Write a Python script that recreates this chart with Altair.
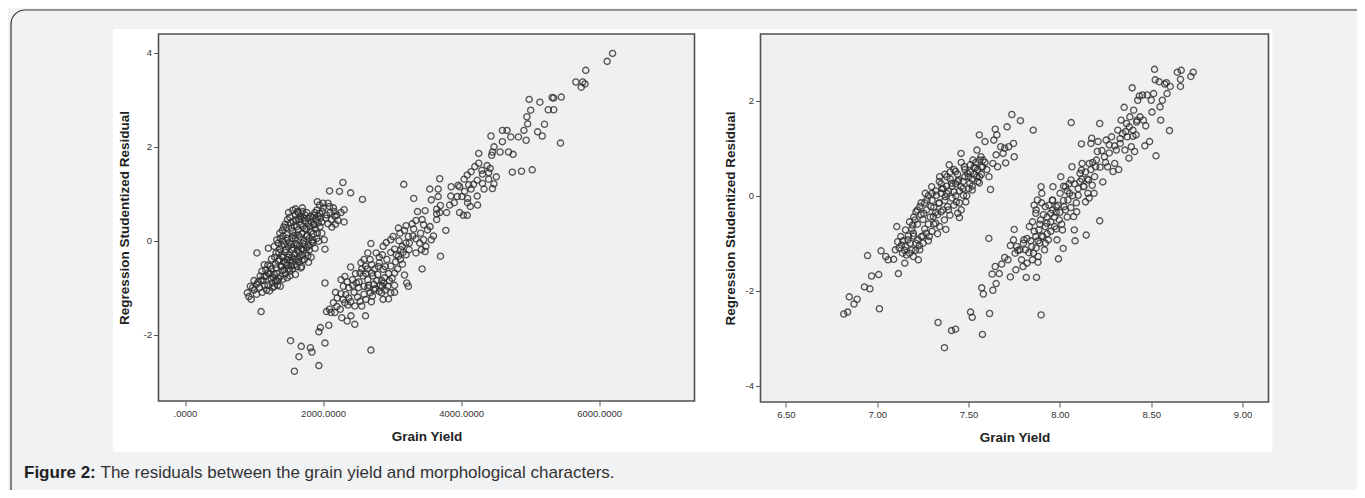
import altair as alt
import pandas as pd

# ---------------- data ----------------
# Left panel: (Grain Yield, Regression Studentized Residual)
left_points = [
    (6194, 3.99), (6116, 3.82), (5806, 3.63), (5662, 3.38), (5762, 3.38), (5795, 3.34),
    (5740, 3.27), (5451, 3.06), (5319, 3.05), (5341, 3.04), (5141, 2.95), (4986, 3.01),
    (5008, 2.78), (5263, 2.79), (5341, 2.79), (4953, 2.64), (4964, 2.49), (5208, 2.48),
    (5108, 2.32), (5175, 2.23), (4909, 2.35), (4942, 2.14), (4831, 2.21), (4720, 2.21),
    (4598, 2.35), (4665, 2.35), (4432, 2.23), (4598, 2.11), (4476, 2.00), (4454, 1.89),
    (4565, 1.89), (4687, 1.89), (4753, 1.84), (4443, 1.82), (5440, 2.08), (4255, 1.86),
    (4742, 1.46), (4875, 1.48), (5030, 1.51), (4255, 1.65), (4377, 1.60), (4421, 1.54),
    (4199, 1.58), (4144, 1.47), (4310, 1.42), (4510, 1.36), (4399, 1.31), (4310, 1.22),
    (4476, 1.21), (4454, 1.11), (4332, 1.10), (4089, 1.40), (4044, 1.31), (3978, 1.15),
    (4110, 1.19), (4233, 1.29), (4144, 1.10), (4011, 0.94), (4094, 0.90), (4233, 0.95),
    (4238, 0.76), (4094, 0.81), (4133, 0.73), (3978, 0.60), (4033, 0.54), (4089, 0.54),
    (3900, 0.81), (3834, 0.76), (3944, 0.94), (3956, 1.18), (3856, 1.15), (3690, 1.32),
    (3668, 1.10), (3546, 1.10), (3568, 0.87), (3668, 0.94), (3790, 0.60), (3690, 0.60),
    (3646, 0.67), (3368, 0.62), (3479, 0.64), (3646, 0.57), (3646, 0.45), (3779, 0.22),
    (3701, -0.33), (3169, 1.20), (3313, 0.90),
    (3700, 0.75), (3850, 0.95), (4180, 1.20), (4300, 1.50), (4400, 1.45), (4050, 1.05),
    (3346, 0.43), (3435, 0.45), (3291, 0.36), (3457, 0.34), (3513, 0.23), (3413, 0.16),
    (3313, 0.25), (3202, 0.32), (3180, 0.22), (3092, 0.27), (3114, 0.16), (3014, 0.09),
    (3236, 0.09), (3346, 0.04), (3457, 0.02), (3568, 0.02), (3490, -0.12), (3424, -0.19),
    (3479, -0.23), (3346, -0.26), (3247, -0.19), (3147, -0.12), (3202, -0.30), (3092, -0.33),
    (3125, -0.19), (3036, -0.18), (2981, 0.02), (2914, -0.04), (2870, -0.12), (2770, -0.26),
    (2693, -0.06), (2814, -0.35), (2925, -0.40), (2981, -0.54), (3036, -0.69), (3180, -0.73),
    (3435, -0.60), (3213, -0.90), (3236, -0.97), (3036, -0.95), (3036, -1.10), (2981, -1.11),
    (3100, 0.00), (3300, 0.10), (3400, -0.05), (3550, 0.30), (3600, 0.10), (3250, -0.05),
    (2648, -0.26), (2593, -0.40), (2704, -0.51), (2814, -0.47), (2870, -0.61), (2792, -0.72),
    (2892, -0.79), (2704, -0.69), (2615, -0.54), (2549, -0.47), (2537, -0.69), (2648, -0.83),
    (2737, -0.93), (2859, -0.97), (2937, -0.97), (2814, -1.08), (2682, -1.11), (2593, -0.97),
    (2482, -0.90), (2515, -1.00), (2427, -0.83), (2399, -0.56), (2316, -0.76), (2260, -0.83),
    (2294, -0.97), (2371, -1.00), (2593, -1.14), (2715, -1.18), (2870, -1.25), (2948, -1.24),
    (2848, -1.11), (2537, -1.29), (2560, -1.39), (2460, -1.39), (2371, -1.22), (2260, -1.13),
    (2205, -1.22), (2150, -1.32), (2316, -1.32), (2249, -1.46), (2094, -1.46), (2050, -1.51),
    (2116, -1.53), (2172, -1.53), (2271, -1.64), (2349, -1.71), (2460, -1.78), (2615, -1.60),
    (2404, -1.60), (2360, -1.37), (2083, -1.80), (1961, -1.85), (1939, -1.94),
    (2750, -0.60), (2850, -0.85), (2950, -0.70), (3050, -0.45), (3150, -0.50), (2650, -1.00),
    (2580, -0.75), (2450, -1.10), (2500, -1.20), (2900, -1.05), (2760, -1.02),
    (2400, -1.30), (2430, -0.95), (2470, -0.70), (2520, -0.88), (2560, -0.60), (2620, -0.70),
    (2660, -0.95), (2680, -0.40), (2720, -0.75), (2740, -1.05), (2780, -0.85), (2800, -0.55),
    (2830, -0.95), (2860, -0.30), (2880, -0.90), (2900, -0.55), (2960, -0.85), (2980, -0.25),
    (3000, -0.80), (3060, -0.30), (3080, -0.60), (3120, -0.40), (3160, -0.25), (3200, -0.05),
    (2330, -1.15), (2290, -1.25), (2200, -1.40), (2180, -1.10), (2350, -0.88), (2620, -1.25),
    (2700, -1.30), (2640, -0.60),
    (2028, -0.90), (2028, -0.18), (2693, -2.33), (1529, -2.13), (1651, -2.47), (1585, -2.78),
    (1684, -2.25), (1817, -2.28), (1839, -2.37), (1939, -2.66), (2028, -2.18),
    (2288, 1.24), (2094, 1.06), (2238, 1.05), (2399, 1.02), (2571, 0.88), (1917, 0.83),
    (2072, 0.80), (2094, 0.73), (1950, 0.76), (2161, 0.62), (2305, 0.66), (2172, 0.52),
    (2216, 0.43), (2305, 0.40), (2072, 0.36), (2127, 0.29), (1983, 0.16), (2017, 0.02),
    (2050, 0.55), (2120, 0.45), (2200, 0.55), (2260, 0.60), (2180, 0.35), (1980, 0.40),
    (1629, 0.62), (1762, 0.60), (1873, 0.55), (1928, 0.52), (1485, 0.45), (1568, 0.41),
    (1679, 0.46), (1789, 0.37), (1873, 0.34), (1956, 0.30), (1429, 0.29), (1540, 0.27),
    (1640, 0.23), (1734, 0.26), (1828, 0.20), (1917, 0.16), (1374, 0.16), (1474, 0.13),
    (1574, 0.11), (1662, 0.08), (1762, 0.09), (1850, 0.02), (1939, -0.01), (1330, 0.02),
    (1418, -0.01), (1507, -0.04), (1607, -0.06), (1706, -0.05), (1795, -0.11), (1884, -0.16),
    (1291, -0.12), (1374, -0.18), (1463, -0.19), (1551, -0.20), (1651, -0.25), (1750, -0.26),
    (1828, -0.35), (1208, -0.16), (1319, -0.26), (1407, -0.32), (1496, -0.35), (1596, -0.39),
    (1695, -0.42), (1789, -0.46), (1042, -0.26), (1253, -0.39), (1346, -0.43), (1452, -0.47),
    (1540, -0.53), (1679, -0.58), (1147, -0.51), (1236, -0.54), (1324, -0.58), (1418, -0.63),
    (1518, -0.65), (1114, -0.65), (1202, -0.69), (1291, -0.72), (1380, -0.76), (1479, -0.79),
    (1147, -0.76), (1247, -0.81), (1341, -0.86), (1103, -0.84), (1036, -0.93), (947, -0.97),
    (1202, -0.95), (1291, -0.97), (1380, -0.97), (1225, -1.07), (903, -1.11), (925, -1.19),
    (958, -1.25), (1103, -1.51), (1036, -1.14),
    (1450, 0.35), (1520, 0.50), (1600, 0.55), (1700, 0.62), (1780, 0.48), (1560, 0.20),
    (1620, 0.30), (1690, 0.15), (1760, 0.25), (1830, 0.40), (1900, 0.45), (1420, 0.10),
    (1480, 0.05), (1540, -0.08), (1600, 0.05), (1660, -0.10), (1720, 0.00), (1800, 0.05),
    (1860, 0.15), (1350, -0.05), (1400, -0.10), (1450, -0.25), (1510, -0.30), (1570, -0.15),
    (1630, -0.20), (1700, -0.30), (1760, -0.15), (1300, -0.35), (1370, -0.40), (1430, -0.45),
    (1480, -0.40), (1560, -0.45), (1620, -0.55), (1250, -0.60), (1330, -0.70), (1400, -0.55),
    (1460, -0.70), (1520, -0.75), (1180, -0.75), (1260, -0.90), (1340, -0.95), (1150, -0.95),
    (1080, -1.00), (1000, -1.05), (1600, 0.68), (1680, 0.35), (1740, 0.42), (1880, 0.60),
    (1950, 0.58), (2000, 0.70), (1560, -0.60), (1640, -0.40), (1800, -0.20), (1850, -0.05),
    (1380, 0.05), (1410, 0.22), (1440, -0.08), (1470, 0.28), (1500, -0.12), (1530, 0.38),
    (1550, 0.05), (1580, 0.32), (1590, -0.28), (1610, 0.45), (1640, 0.12), (1650, -0.45),
    (1670, 0.52), (1690, -0.18), (1710, 0.30), (1730, -0.08), (1740, 0.55), (1770, 0.12),
    (1780, -0.32), (1810, 0.30), (1820, 0.52), (1840, -0.02), (1860, 0.35), (1890, 0.25),
    (1910, 0.05), (1930, 0.38), (1960, 0.48), (1990, 0.62), (1360, -0.25), (1390, -0.55),
    (1420, -0.35), (1440, -0.62), (1470, -0.52), (1500, -0.60), (1530, -0.42), (1550, -0.35),
    (1580, -0.52), (1600, -0.72), (1620, -0.10), (1660, -0.35), (1690, -0.55), (1710, -0.20),
    (1730, -0.40), (1310, -0.50), (1280, -0.78), (1230, -0.70), (1200, -0.52), (1170, -0.62),
    (1130, -0.85), (1090, -0.75), (1060, -0.88), (1310, -0.85), (1360, -0.80), (1420, -0.82),
    (1270, -1.00), (1180, -1.05), (1120, -1.10), (980, -1.00), (1000, -0.85), (1500, 0.60),
    (1560, 0.65), (1650, 0.45), (1720, 0.48), (1850, 0.50), (1910, 0.65), (2000, 0.80),
    (2040, 0.48), (2100, 0.60), (2150, 0.70), (1700, 0.70), (1640, 0.60),
]

# Right panel: (Grain Yield, Regression Studentized Residual)
right_points = [
    (6.817, -2.49), (6.838, -2.45), (6.847, -2.13), (6.873, -2.28), (6.890, -2.18),
    (6.930, -1.92), (6.960, -1.96), (7.012, -2.38), (6.969, -1.69), (7.008, -1.66),
    (6.947, -1.26), (7.021, -1.16), (7.047, -1.28), (7.060, -1.35), (7.090, -1.34),
    (7.099, -1.14), (7.112, -0.97), (7.107, -0.65), (7.116, -1.64), (7.129, -0.86),
    (7.138, -1.21), (7.151, -1.42), (7.155, -1.07), (7.133, -1.04), (7.168, -0.93),
    (7.177, -1.21), (7.190, -1.14), (7.198, -1.28), (7.177, -0.55), (7.198, -0.79),
    (7.212, -1.00), (7.225, -1.35), (7.233, -1.14), (7.220, -0.93), (7.155, -0.72),
    (7.194, -0.62), (7.207, -0.51), (7.242, -0.86), (7.251, -1.00), (7.268, -0.79),
    (7.285, -0.86), (7.212, -0.34), (7.233, -0.23), (7.255, -0.37), (7.263, 0.05),
    (7.272, -0.09), (7.294, -0.23), (7.307, -0.44), (7.320, -0.58), (7.342, -0.65),
    (7.376, -0.71), (7.298, 0.19), (7.324, 0.01), (7.337, -0.16), (7.350, -0.34),
    (7.368, -0.51), (7.342, 0.40), (7.354, 0.15), (7.372, -0.02), (7.385, -0.23),
    (7.398, -0.41), (7.394, 0.65), (7.381, 0.40), (7.407, 0.26), (7.420, 0.08),
    (7.433, -0.13), (7.441, -0.37), (7.450, -0.46), (7.429, 0.51), (7.446, 0.33),
    (7.459, 0.19), (7.472, 0.01), (7.485, -0.13), (7.459, 0.89), (7.477, 0.61),
    (7.494, 0.47), (7.507, 0.26), (7.520, 0.12), (7.524, 0.75), (7.537, 0.58),
    (7.546, 0.40), (7.559, 0.27), (7.568, 0.82), (7.577, 0.61), (7.559, 1.28),
    (7.546, 0.96), (7.590, 1.14), (7.612, 0.40), (7.620, 0.13), (7.633, 0.68),
    (7.638, 1.17), (7.646, 1.40), (7.655, 1.28), (7.651, 0.86), (7.659, 0.61),
    (7.676, 1.03), (7.689, 0.89), (7.698, 1.00), (7.703, 0.69), (7.711, 1.45),
    (7.720, 1.03), (7.737, 1.71), (7.746, 1.10), (7.750, 0.82), (7.784, 1.58),
    (7.854, 1.38), (7.611, -0.90),
    (7.30, -0.10), (7.32, 0.10), (7.35, 0.05), (7.36, -0.30), (7.38, 0.20), (7.40, 0.35),
    (7.41, -0.05), (7.43, 0.25), (7.44, 0.45), (7.45, 0.10), (7.47, 0.30), (7.48, 0.55),
    (7.50, 0.40), (7.51, 0.65), (7.53, 0.45), (7.54, 0.70), (7.55, 0.55), (7.56, 0.40),
    (7.27, -0.30), (7.29, -0.45), (7.31, -0.25), (7.33, -0.40), (7.25, -0.50), (7.22, -0.30),
    (7.24, -0.15), (7.28, 0.00), (7.34, 0.30), (7.37, 0.45), (7.39, 0.10), (7.42, -0.20),
    (7.46, -0.30), (7.49, 0.00), (7.52, 0.20), (7.57, 0.60), (7.58, 0.75), (7.46, 0.70),
    (7.42, 0.55), (7.36, 0.15), (7.31, -0.60), (7.26, -0.70), (7.20, -0.85), (7.18, -1.00),
    (7.15, -1.15), (7.23, -1.05), (7.28, -0.95), (7.33, -0.80),
    (7.26, -0.15), (7.28, -0.60), (7.30, 0.05), (7.32, -0.35), (7.34, -0.15), (7.35, 0.25),
    (7.37, -0.10), (7.38, 0.05), (7.39, -0.30), (7.40, 0.50), (7.41, 0.20), (7.43, 0.00),
    (7.44, 0.30), (7.45, -0.15), (7.47, 0.15), (7.48, 0.40), (7.50, 0.15), (7.51, 0.50),
    (7.52, 0.35), (7.53, 0.60), (7.55, 0.30), (7.56, 0.75), (7.57, 0.45), (7.59, 0.70),
    (7.60, 0.55), (7.24, -0.40), (7.22, -0.60), (7.20, -0.45), (7.19, -0.70), (7.17, -0.85),
    (7.14, -0.95), (7.12, -1.10), (7.16, -1.25), (7.21, -1.15), (7.25, -0.85), (7.30, -0.75),
    (7.333, -2.67), (7.368, -3.20), (7.407, -2.84), (7.429, -2.81), (7.511, -2.45),
    (7.520, -2.56), (7.576, -2.92), (7.615, -2.48), (7.572, -1.94), (7.581, -2.07),
    (7.633, -1.99), (7.651, -1.85), (7.629, -1.65), (7.646, -1.49), (7.668, -1.64),
    (7.681, -1.44), (7.698, -1.30), (7.716, -1.35), (7.729, -1.05), (7.729, -1.71),
    (7.746, -0.93), (7.755, -1.21), (7.759, -1.56), (7.763, -1.07), (7.750, -0.71),
    (7.781, -1.14), (7.790, -1.35), (7.798, -1.49), (7.803, -0.93), (7.811, -1.14),
    (7.820, -1.42), (7.816, -1.72), (7.833, -0.65), (7.846, -1.07), (7.855, -1.21),
    (7.868, -0.86), (7.872, -1.72), (7.881, -1.28), (7.885, -0.72), (7.894, -0.51),
    (7.859, -0.20), (7.868, -0.37), (7.877, -0.09), (7.897, 0.19), (7.901, 0.05),
    (7.897, -2.51), (7.907, -0.86), (7.916, -1.14), (7.920, -0.23), (7.929, -0.58),
    (7.937, -0.93), (7.950, -0.37), (7.959, -0.09), (7.962, 0.19), (7.971, -0.65),
    (7.980, -0.23), (7.984, -0.93), (7.992, -1.33), (7.997, -0.51), (8.001, 0.05),
    (8.005, 0.40), (8.014, -0.72), (8.018, -1.11), (8.023, -0.23), (8.031, 0.19),
    (8.044, -0.09), (8.053, 0.05), (8.061, 0.33), (8.066, 0.61), (8.075, -0.44),
    (8.079, -0.72), (8.083, -0.95), (8.062, 1.54), (8.092, -0.34), (8.100, 0.01),
    (8.110, 0.47), (8.118, 0.54), (8.118, 1.09), (8.122, 0.68), (8.131, 0.19),
    (8.140, -0.13), (8.144, -0.83), (8.153, 0.05), (8.157, 0.33), (8.161, 0.68),
    (8.170, 1.10), (8.174, 1.21), (8.177, 0.22), (8.187, 0.05), (8.196, 0.61),
    (8.205, 0.93), (8.209, 1.14), (8.218, 1.52), (8.218, -0.53), (8.235, 0.29),
    (8.244, 0.82), (8.253, 1.17), (8.261, 0.61), (8.270, 1.07), (8.283, 1.24),
    (8.291, 0.51), (8.300, 0.68), (8.309, 0.96), (8.317, 1.38), (8.322, 0.55),
    (8.330, 1.10), (8.335, 1.59), (8.343, 1.31), (8.352, 1.86), (8.356, 0.96),
    (8.365, 1.52), (8.369, 1.24), (8.378, 0.79), (8.383, 1.66), (8.391, 1.03),
    (8.396, 2.27), (8.400, 1.38), (8.404, 1.80), (8.409, 0.93), (8.417, 1.28),
    (8.422, 1.59), (8.426, 2.01), (8.435, 2.10), (8.439, 1.66), (8.452, 2.12),
    (8.457, 1.59), (8.465, 1.05), (8.470, 1.47), (8.478, 2.12), (8.491, 1.14),
    (8.500, 2.01), (8.504, 1.76), (8.513, 2.15), (8.518, 2.66), (8.522, 2.44),
    (8.526, 0.84), (8.543, 2.40), (8.548, 1.87), (8.552, 1.59), (8.561, 2.01),
    (8.574, 2.35), (8.583, 2.38), (8.587, 2.15), (8.600, 1.37), (8.604, 2.30),
    (8.643, 2.60), (8.660, 2.30), (8.660, 2.45), (8.664, 2.64), (8.717, 2.51),
    (8.730, 2.60),
    (7.86, -0.75), (7.88, -0.95), (7.89, -0.60), (7.91, -0.40), (7.93, -0.80), (7.94, -0.20),
    (7.95, -0.55), (7.96, -0.30), (7.98, -0.70), (8.00, -0.35), (8.02, -0.10), (8.04, 0.10),
    (8.06, -0.25), (8.08, 0.25), (8.10, 0.15), (8.12, 0.35), (8.14, 0.50), (8.16, -0.05),
    (8.17, 0.55), (8.20, 0.75), (8.23, 0.95), (8.27, 0.90), (8.30, 1.05), (8.33, 1.20),
    (8.36, 1.35), (8.38, 1.45), (8.40, 1.25), (8.42, 1.55), (7.84, -0.95), (7.87, -1.10),
    (7.90, -0.85), (7.82, -0.90), (7.80, -1.00), (7.77, -1.15), (7.92, -1.00), (7.97, -0.45),
    (8.03, -0.30), (8.13, 0.20), (8.19, 0.40), (8.25, 0.70),
    (7.85, -0.55), (7.87, -0.30), (7.89, -1.00), (7.90, -0.15), (7.92, -0.65), (7.93, -0.45),
    (7.95, -0.75), (7.96, -0.10), (7.98, -0.35), (7.99, -0.20), (8.01, -0.60), (8.02, 0.20),
    (8.04, -0.45), (8.05, 0.25), (8.07, 0.00), (8.09, -0.15), (8.11, 0.30), (8.15, 0.35),
    (8.18, 0.70), (8.22, 0.60), (7.83, -1.20), (7.85, -1.35), (7.88, -1.40),
]

left_x_ticks = [0, 2000, 4000, 6000]
left_y_ticks = [-2, 0, 2, 4]
right_x_ticks = [6.5, 7.0, 7.5, 8.0, 8.5, 9.0]
right_y_ticks = [-4, -2, 0, 2]
x_title = "Grain Yield"
y_title = "Regression Studentized Residual"
caption_bold = ["Figure 2:"]
caption_rest = ["The residuals between the grain yield and morphological characters."]

# ---------------- styling ----------------
FONT = "Liberation Sans"
LW, LH = 536, 367
RW, RH = 508, 368
PLOT_BG = "#f0f0f0"
FRAME = "#505050"
PT = "#2e2e2e"
PT_SIZE = 38
PT_STROKE = 1.35


def x_axis(values, expr):
    return alt.Axis(values=values, labelExpr=expr, title=x_title, domain=False, grid=False,
                    tickSize=5, tickColor="#555555", tickWidth=1, labelFont=FONT,
                    labelFontSize=9.5, labelColor="#333333", labelPadding=2, labelFlush=False,
                    titleFont=FONT, titleFontSize=13.5, titleFontWeight="bold",
                    titleColor="#222222", titlePadding=12, zindex=1)


def y_axis(values, pad):
    return alt.Axis(values=values, labelExpr="'' + datum.value", title=y_title, domain=False,
                    grid=False, tickSize=5, tickColor="#555555", tickWidth=1, labelFont=FONT,
                    labelFontSize=9.5, labelColor="#333333", labelPadding=2, labelFlush=False,
                    titleFont=FONT, titleFontSize=13.5, titleFontWeight="bold",
                    titleColor="#222222", titlePadding=pad, zindex=1)


left_df = pd.DataFrame(left_points, columns=["gy", "res"])
right_df = pd.DataFrame(right_points, columns=["gy", "res"])
one = pd.DataFrame({"k": [0]})

left_pts = alt.Chart(left_df).mark_point(
    shape="circle", filled=False, size=PT_SIZE, strokeWidth=PT_STROKE, color=PT, opacity=0.8
).encode(
    x=alt.X("gy:Q", scale=alt.Scale(domain=[-384, 7381], nice=False, zero=False),
            axis=x_axis(left_x_ticks, "datum.value == 0 ? '.0000' : format(datum.value, '.4f')")),
    y=alt.Y("res:Q", scale=alt.Scale(domain=[-3.414, 4.403], nice=False, zero=False),
            axis=y_axis(left_y_ticks, 12)),
)

right_pts = alt.Chart(right_df).mark_point(
    shape="circle", filled=False, size=PT_SIZE, strokeWidth=PT_STROKE, color=PT, opacity=0.8
).encode(
    x=alt.X("gy:Q", scale=alt.Scale(domain=[6.361, 9.142], nice=False, zero=False),
            axis=x_axis(right_x_ticks, "format(datum.value, '.2f')")),
    y=alt.Y("res:Q", scale=alt.Scale(domain=[-4.343, 3.404], nice=False, zero=False),
            axis=y_axis(right_y_ticks, 8)),
)

# page decorations (white figure area, rounded frame, caption, plot background)
white = alt.Chart(one).mark_rect(fill="white").encode(
    x=alt.value(-45.5), x2=alt.value(1114), y=alt.value(-5), y2=alt.value(418))
border = alt.Chart(one).mark_rect(filled=False, stroke="#333333", strokeWidth=1.2,
                                  cornerRadius=14).encode(
    x=alt.value(-147.5), x2=alt.value(1300), y=alt.value(-24), y2=alt.value(520))
cap1 = alt.Chart(pd.DataFrame({"t": caption_bold})).mark_text(
    align="left", baseline="alphabetic", font=FONT, fontSize=17, fontWeight="bold",
    color="#222222").encode(x=alt.value(-134.5), y=alt.value(444), text="t:N")
cap2 = alt.Chart(pd.DataFrame({"t": caption_rest})).mark_text(
    align="left", baseline="alphabetic", font=FONT, fontSize=17, color="#333333").encode(
    x=alt.value(-58), y=alt.value(444), text="t:N")
plot_bg = alt.Chart(one).mark_rect(fill=PLOT_BG, stroke=FRAME, strokeWidth=1.6).encode(
    x=alt.value(0), x2=alt.value(LW), y=alt.value(0), y2=alt.value(LH))

left = alt.layer(white, border, cap1, cap2, plot_bg, left_pts).properties(width=LW, height=LH)
right = right_pts.properties(
    width=RW, height=RH,
    view=alt.ViewBackground(fill=PLOT_BG, stroke=FRAME, strokeWidth=1.6))

chart = alt.hconcat(left, right, spacing=66, bounds="flush").properties(
    autosize=alt.AutoSizeParams(type="none"),
    padding={"left": 150.5, "top": 26, "right": 1198.5, "bottom": 456},
    background="#f1f2f4",
).configure_view(strokeWidth=0)

chart.save("out.html", embed_options={"renderer": "svg", "actions": False})
